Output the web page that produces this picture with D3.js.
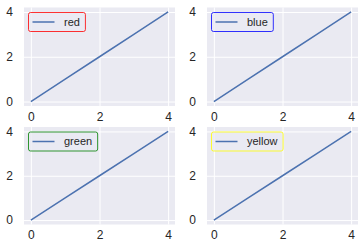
<!DOCTYPE html>
<html lang="en">
<head>
<meta charset="UTF-8">
<title>2x2 legends</title>
<script src="https://cdn.jsdelivr.net/npm/d3@7"></script>
<style>
    body { margin: 0; background: #fff; }
    svg { display: block; font-family: "Liberation Sans", Arial, sans-serif; }
</style>
</head>
<body>
<script>

    // DATA
    const xValues = [0, 1, 2, 3, 4]
    const yValues = [0, 1, 2, 3, 4]
    const legendLabels = ["red", "blue", "green", "yellow"]
    const legendEdges = ["#ff0000", "#0000ff", "#008000", "#ffff00"]
    const tickValues = [0, 2, 4]

    const W = 364, H = 251
    const svg = d3.select("body").append("svg").attr("width", W).attr("height", H)

    // PANEL BOXES (left, right, top, bottom)
    const cols = [[24, 175], [207, 358]]
    const rows = [[7.5, 106], [127, 224.5]]

    const points = xValues.map((x, i) => ({x: x, y: yValues[i]}))

    legendLabels.forEach((label, i) => {
        let c = cols[i % 2], r = rows[Math.floor(i / 2)]

        let x_scale = d3.scaleLinear().domain([-0.2, 4.2]).range(c)
        let y_scale = d3.scaleLinear().domain([-0.2, 4.2]).range([r[1], r[0]])

        let g = svg.append("g")

        // background
        g.append("rect")
            .attr("x", c[0]).attr("y", r[0])
            .attr("width", c[1] - c[0]).attr("height", r[1] - r[0])
            .style("fill", "#eaeaf2")

        // axes with grid
        let x_axis = d3.axisBottom(x_scale).tickValues(tickValues).tickFormat(d3.format("d"))
                       .tickSize(-(r[1] - r[0])).tickPadding(6)
        let y_axis = d3.axisLeft(y_scale).tickValues(tickValues).tickFormat(d3.format("d"))
                       .tickSize(-(c[1] - c[0])).tickPadding(11)

        g.append("g").attr("transform", "translate(0," + r[1] + ")").call(x_axis)
        g.append("g").attr("transform", "translate(" + c[0] + ",0)").call(y_axis)

        g.selectAll(".domain").remove()
        g.selectAll(".tick line").style("stroke", "#fff").style("stroke-width", 1)
        g.selectAll(".tick text").style("font-size", "12px").style("fill", "#262626")
            .style("font-family", "'Liberation Sans', Arial, sans-serif")

        // line
        let line = d3.line().x(d => x_scale(d.x)).y(d => y_scale(d.y))
        g.append("path")
            .datum(points)
            .attr("d", line)
            .style("fill", "none")
            .style("stroke", "#4c72b0")
            .style("stroke-width", 1.5)

        // LEGEND
        let lx = c[0] + 4.5, ly = r[0] + 5
        let leg = g.append("g").attr("transform", "translate(" + lx + "," + ly + ")")
        let frame = leg.append("rect")
            .attr("x", 0).attr("y", 0).attr("height", 19).attr("rx", 2)
            .style("fill", "#eaeaf2").style("fill-opacity", 0.8)
            .style("stroke", legendEdges[i]).style("stroke-opacity", 0.8).style("stroke-width", 1)
        leg.append("line")
            .attr("x1", 4).attr("x2", 26).attr("y1", 9.5).attr("y2", 9.5)
            .style("stroke", "#4c72b0").style("stroke-width", 1.5)
        let txt = leg.append("text")
            .attr("x", 35.5).attr("y", 9.5).attr("dy", "0.35em")
            .text(label)
            .style("font-size", "11px").style("fill", "#262626")
        frame.attr("width", 35.5 + txt.node().getComputedTextLength() + 5.5)
    })

</script>
</body>
</html>
